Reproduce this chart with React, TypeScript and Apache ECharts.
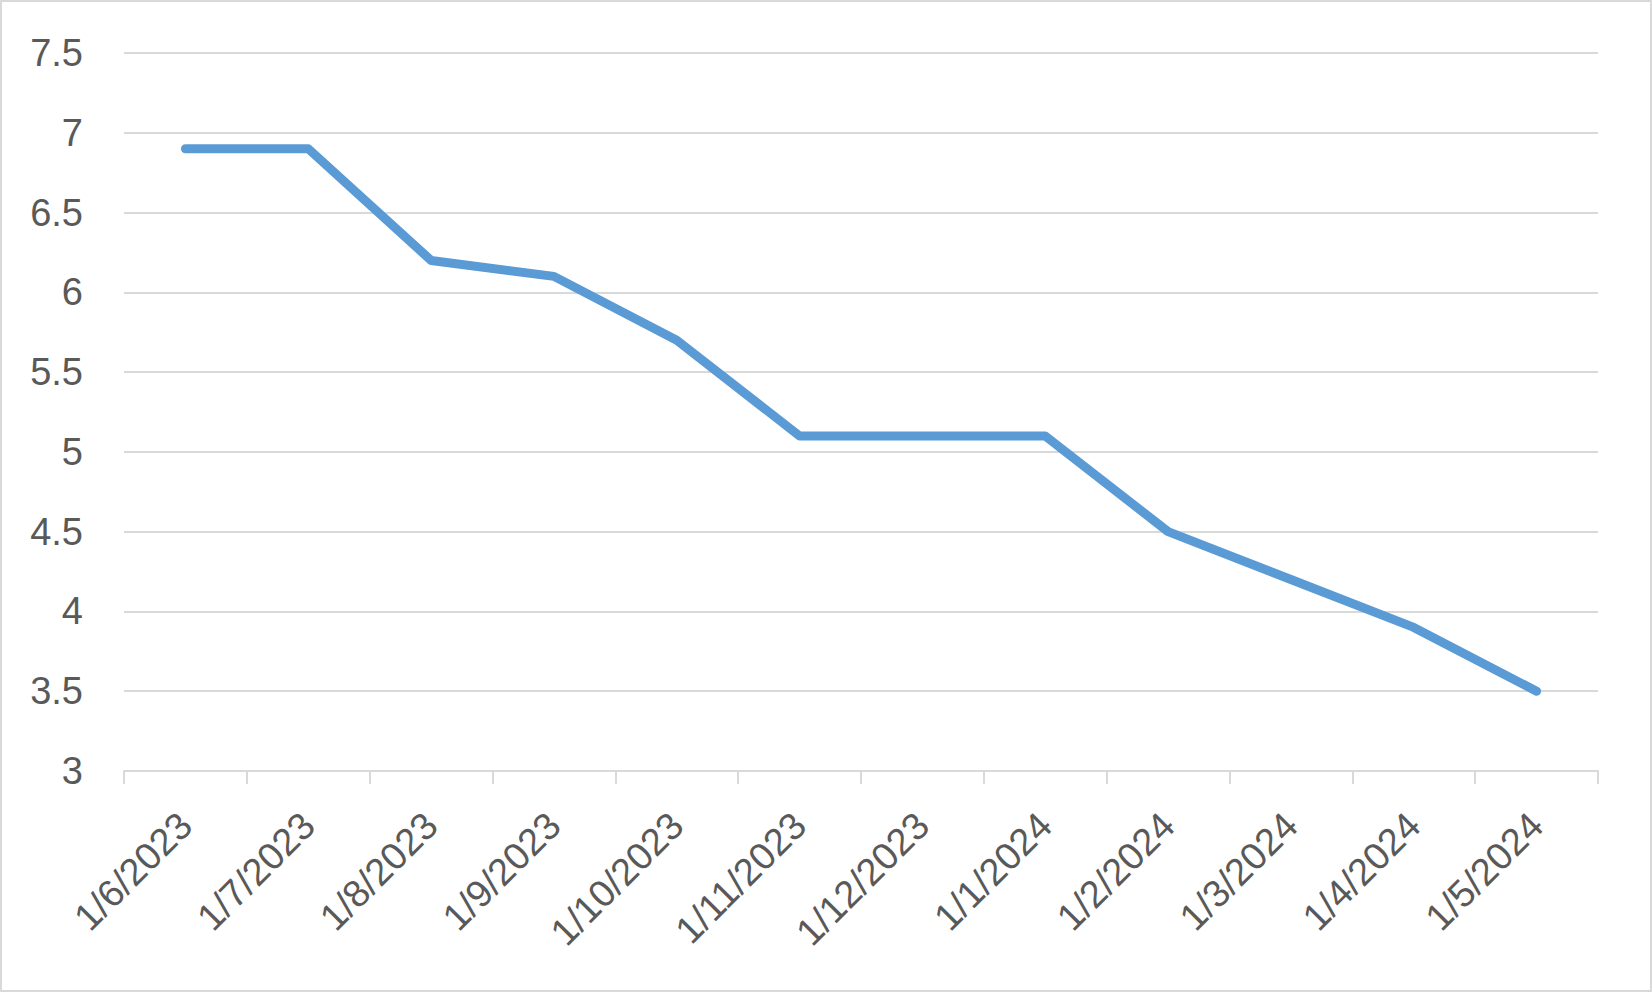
import React, { useEffect, useRef } from "react";
import * as echarts from "echarts";

const categories = [
  "1/6/2023", "1/7/2023", "1/8/2023", "1/9/2023", "1/10/2023", "1/11/2023",
  "1/12/2023", "1/1/2024", "1/2/2024", "1/3/2024", "1/4/2024", "1/5/2024",
];
const values = [6.9, 6.9, 6.2, 6.1, 5.7, 5.1, 5.1, 5.1, 4.5, 4.2, 3.9, 3.5];
const yMin = 3;
const yMax = 7.5;
const yStep = 0.5;

export default function App() {
  const ref = useRef<HTMLDivElement>(null);
  useEffect(() => {
    document.body.style.margin = "0";
    const chart = echarts.init(ref.current!, null, { renderer: "svg" });
    const font = "'Liberation Sans', Arial, sans-serif";
    chart.setOption({
      animation: false,
      backgroundColor: "#ffffff",
      grid: { left: 122, right: 52, top: 51, bottom: 219, containLabel: false },
      xAxis: {
        type: "category",
        data: categories,
        boundaryGap: true,
        axisLine: { show: true, lineStyle: { color: "#D9D9D9", width: 2 } },
        axisTick: { show: true, length: 13, alignWithLabel: false, lineStyle: { color: "#D9D9D9", width: 2 } },
        axisLabel: {
          rotate: 45,
          interval: 0,
          margin: 48,
          color: "#595959",
          fontSize: 38,
          fontFamily: font,
        },
        splitLine: { show: false },
      },
      yAxis: {
        type: "value",
        min: yMin,
        max: yMax,
        interval: yStep,
        axisLine: { show: false },
        axisTick: { show: false },
        axisLabel: {
          margin: 41,
          color: "#595959",
          fontSize: 38,
          fontFamily: font,
        },
        splitLine: { show: true, lineStyle: { color: "#D9D9D9", width: 2 } },
      },
      series: [
        {
          type: "line",
          data: values,
          showSymbol: false,
          symbol: "none",
          smooth: false,
          lineStyle: { color: "#5B9BD5", width: 9, cap: "round", join: "round" },
          itemStyle: { color: "#5B9BD5" },
        },
      ],
    });
    return () => chart.dispose();
  }, []);
  return (
    <div
      style={{
        width: 1652,
        height: 992,
        boxSizing: "border-box",
        border: "2px solid #D9D9D9",
        background: "#fff",
      }}
    >
      <div ref={ref} style={{ width: 1648, height: 988 }} />
    </div>
  );
}
